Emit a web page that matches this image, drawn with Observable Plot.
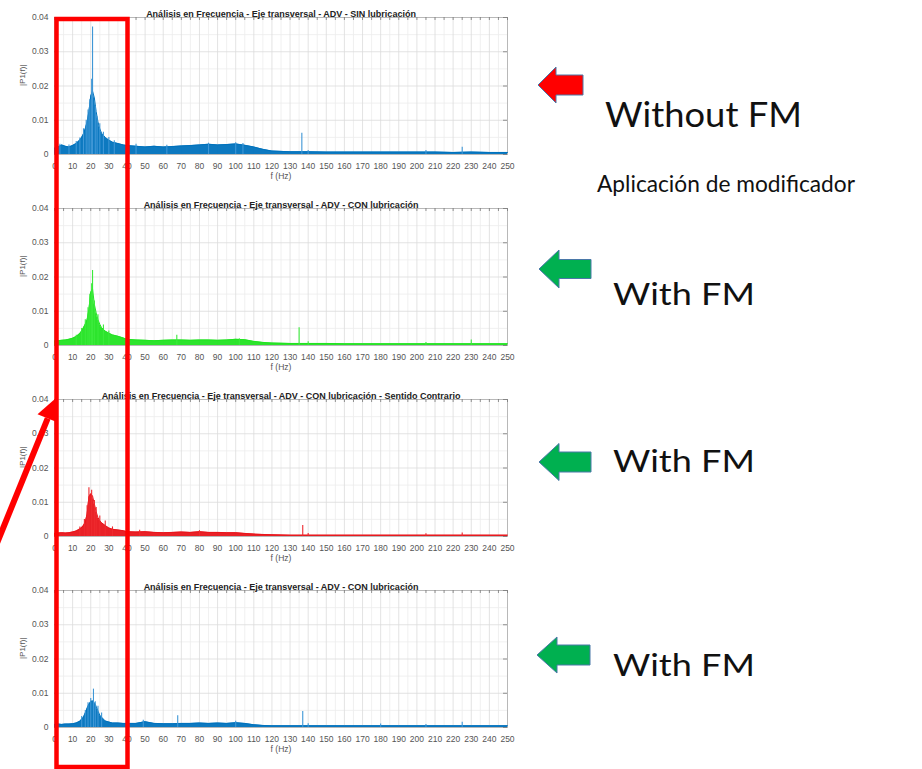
<!DOCTYPE html>
<html><head><meta charset="utf-8">
<script src="https://cdn.jsdelivr.net/npm/d3@7"></script>
<script src="https://cdn.jsdelivr.net/npm/@observablehq/plot@0.6"></script>
<style>
html,body{margin:0;padding:0;background:#fff;}
#wrap{position:relative;width:922px;height:769px;overflow:hidden;background:#fff;}
.panel{position:absolute;left:0;}
#overlay{position:absolute;left:0;top:0;}
</style></head><body>
<div id="wrap"></div>
<script>
// ---------- data ----------
const freq = [0,2,4,6,8,10,12,14,15,16,17,18,19,20,21,22,23,24,25,26,28,30,32,35,38,40,45,50,55,60,65,70,75,80,85,90,95,100,105,110,115,120,130,140,150,160,170,180,190,200,210,220,230,240,250];

const ampSin = [.0018,.0022,.0028,.0024,.0022,.0026,.0032,.0042,.005,.006,.0075,.0095,.0125,.017,.0185,.0165,.0125,.0095,.0075,.0062,.005,.0042,.0036,.0032,.0028,.0026,.0024,.0022,.0024,.0022,.0023,.0025,.0026,.0028,.003,.0028,.0029,.0031,.0027,.0022,.0015,.001,.0008,.0008,.0007,.0007,.0007,.0007,.0007,.0007,.0007,.0006,.0007,.0006,.0006];
const ampCon = [.0013,.0014,.0015,.0016,.0018,.0021,.0026,.0035,.0042,.0052,.0062,.0075,.0105,.0155,.0165,.012,.0095,.0075,.0062,.0052,.0042,.0036,.0031,.0027,.0022,.0018,.0016,.0015,.0014,.0015,.0016,.0016,.0015,.0016,.0016,.0015,.0016,.0018,.0017,.0012,.0009,.0007,.0006,.0006,.0006,.0005,.0005,.0005,.0005,.0005,.0005,.0005,.0005,.0005,.0005];
const ampContrario = [.0009,.001,.0011,.001,.0011,.0013,.0016,.0022,.0026,.0032,.0042,.0065,.0115,.0125,.0118,.0095,.0072,.0055,.0046,.004,.0032,.0025,.0021,.0019,.0017,.0014,.0013,.0014,.0012,.0011,.0012,.0013,.0012,.0014,.0012,.0012,.0011,.0011,.0009,.0007,.0006,.0005,.0004,.0004,.0004,.0004,.0004,.0004,.0004,.0004,.0004,.0004,.0004,.0004,.0004];
const ampCon2 = [.0009,.001,.0009,.001,.001,.0011,.0013,.0018,.0024,.003,.0042,.0056,.0068,.0075,.0078,.0072,.0062,.0048,.0036,.003,.0019,.0016,.0013,.0013,.0012,.0012,.0012,.0017,.0012,.0011,.0011,.0012,.0012,.0013,.0012,.0013,.0012,.0014,.0012,.0008,.0006,.0005,.0005,.0005,.0005,.0005,.0005,.0005,.0005,.0005,.0005,.0005,.0005,.0005,.0005];

// spikes (frequency, amplitude)
const spikeSinF = [3,8,12,14,16,17.5,18.5,19.5,20.5,21,22.5,23.5,25,27,30,33,45,62,85,100,104,136.5,140,205,225];
const spikeSinA = [.003,.0028,.0038,.0048,.0075,.01,.013,.016,.022,.0372,.014,.011,.009,.0065,.005,.004,.003,.0027,.0033,.0034,.0032,.0062,.0012,.0012,.0021];
const spikeConF = [12,15,17,18.5,19.5,20.5,21,22,24,27,30,67.5,102,135,140,205,230];
const spikeConA = [.003,.005,.0075,.011,.015,.018,.0219,.013,.009,.006,.0042,.003,.002,.0052,.0011,.0009,.0016];
const spikeContrarioF = [14,16.5,18,19,20.5,22,23,25,28,32,47,80,137,140,205,225];
const spikeContrarioA = [.0028,.005,.009,.0142,.0135,.0105,.0085,.006,.0045,.0028,.0018,.0017,.0032,.0009,.0008,.001];
const spikeCon2F = [15,17,18.5,20,21.5,22.5,24,26,49,68,100,137,140,180,205,225];
const spikeCon2A = [.0032,.005,.0072,.0085,.0112,.0075,.0062,.0042,.0021,.0034,.0018,.0047,.0011,.001,.0009,.0015];

const titles = [
  "Análisis en Frecuencia - Eje transversal - ADV - SIN lubricación",
  "Análisis en Frecuencia - Eje transversal - ADV - CON lubricación",
  "Análisis en Frecuencia - Eje transversal - ADV - CON lubricación - Sentido Contrario",
  "Análisis en Frecuencia - Eje transversal - ADV - CON lubricación"
];
const colors = ["#0072BD", "#22E322", "#E8151B", "#0072BD"];
const spikeColors = ["#3F97D6", "#3BEA3B", "#EE2A2F", "#3F97D6"];
const xTicks = d3.range(0, 251, 10);
const xMinor = d3.range(5, 250, 10);
const yTicks = [0, 0.01, 0.02, 0.03, 0.04];
const yMinor = [0.005, 0.015, 0.025, 0.035];
const yLabel = "|P1(f)|";
const xLabel = "f (Hz)";

const series = [
  {amp: ampSin, sf: spikeSinF, sa: spikeSinA},
  {amp: ampCon, sf: spikeConF, sa: spikeConA},
  {amp: ampContrario, sf: spikeContrarioF, sa: spikeContrarioA},
  {amp: ampCon2, sf: spikeCon2F, sa: spikeCon2A}
];
const panelTops = [0, 191, 382, 573];

const wrap = document.getElementById("wrap");
const tickLenX = 4 / 1.812;   // in Hz
const tickLenY = 3 / 3425;    // in |P1|

series.forEach((s, i) => {
  const rows = freq.map((f, j) => ({f, a: s.amp[j]}));
  const spikes = s.sf.map((f, j) => ({f, a: s.sa[j]}));
  const allX = d3.range(0, 251, 5);
  const chart = Plot.plot({
    width: 540, height: 185,
    marginLeft: 54, marginRight: 33, marginTop: 17, marginBottom: 31,
    style: {fontFamily: "'Liberation Sans', Arial, sans-serif", fontSize: "8px", background: "transparent", overflow: "visible"},
    x: {domain: [0, 250]},
    y: {domain: [0, 0.04]},
    marks: [
      Plot.ruleX(xMinor, {stroke: "#ececec", strokeWidth: 0.8}),
      Plot.ruleY(yMinor, {stroke: "#ececec", strokeWidth: 0.8}),
      Plot.ruleX(xTicks, {stroke: "#dcdcdc", strokeWidth: 0.8}),
      Plot.ruleY(yTicks, {stroke: "#dcdcdc", strokeWidth: 0.8}),
      Plot.frame({stroke: "#b8b8b8", strokeWidth: 1}),
      Plot.ruleX(allX, {y1: 0.04, y2: 0.04 - tickLenY, stroke: "#777", strokeWidth: 0.8}),
      Plot.ruleY(yTicks, {x1: 250, x2: 250 - tickLenX, stroke: "#777", strokeWidth: 0.8}),
      Plot.ruleY(yTicks, {x1: 0, x2: tickLenX, stroke: "#777", strokeWidth: 0.8}),
      Plot.areaY(rows, {x: "f", y: "a", fill: colors[i], fillOpacity: 0.95}),
      Plot.lineY(rows, {x: "f", y: "a", stroke: colors[i], strokeWidth: 1}),
      Plot.ruleX(spikes, {x: "f", y1: 0, y2: "a", stroke: spikeColors[i], strokeWidth: 1.1}),
      Plot.axisX({ticks: xTicks, tickSize: 0, tickPadding: 8, tickFormat: d => String(d), label: null, fill: "#555", fontSize: 8.5}),
      Plot.axisY({ticks: yTicks, tickSize: 0, tickPadding: 6, tickFormat: d => d === 0 ? "0" : d3.format(".2f")(d), label: null, fill: "#555", fontSize: 8.5}),
      Plot.text([xLabel], {frameAnchor: "bottom", dy: 24, fill: "#555", fontSize: 8.5}),
      Plot.text([yLabel], {frameAnchor: "left", dx: -32, rotate: -90, fill: "#555", fontSize: 8}),
      Plot.text([titles[i]], {frameAnchor: "top", dy: -7, fontWeight: "bold", fill: "#222", fontSize: 9})
    ]
  });
  const div = document.createElement("div");
  div.className = "panel";
  div.style.top = panelTops[i] + "px";
  div.appendChild(chart);
  wrap.appendChild(div);
});

// ---------- annotations ----------
const NS = "http://www.w3.org/2000/svg";
const ov = document.createElementNS(NS, "svg");
ov.setAttribute("id", "overlay");
ov.setAttribute("width", 922);
ov.setAttribute("height", 769);
function el(name, attrs, text) {
  const e = document.createElementNS(NS, name);
  for (const k in attrs) e.setAttribute(k, attrs[k]);
  if (text) e.textContent = text;
  ov.appendChild(e);
  return e;
}
el("rect", {x: 56.5, y: 19, width: 71, height: 748, fill: "none", stroke: "#ff0000", "stroke-width": 4.5});
el("line", {x1: -4.2, y1: 546, x2: 47.7, y2: 418.4, stroke: "#ff0000", "stroke-width": 6});
el("polygon", {points: "56,398 37.5,414.3 57.9,422.5", fill: "#ff0000"});

function blockArrow(tx, ty, hx, hh, sh, ex, fill) {
  const pts = [[tx,ty],[hx,ty-hh],[hx,ty-sh],[ex,ty-sh],[ex,ty+sh],[hx,ty+sh],[hx,ty+hh]];
  el("polygon", {points: pts.map(p => p.join(",")).join(" "), fill, stroke: "#4A78A8", "stroke-width": 1});
}
blockArrow(538, 85, 556, 18, 10, 583, "#FF0000");
blockArrow(539, 269, 559, 19, 9.5, 591, "#00B050");
blockArrow(539, 462, 559, 18.5, 10, 591, "#00B050");
blockArrow(537, 655, 557, 18, 10, 590, "#00B050");

const labels = [
  {t: "Without FM", x: 605, y: 127, fs: 34, w: 197},
  {t: "Aplicación de modificador", x: 597, y: 192, fs: 22.5, w: 258},
  {t: "With FM", x: 613, y: 305, fs: 31, w: 142},
  {t: "With FM", x: 613, y: 472, fs: 31, w: 142},
  {t: "With FM", x: 613, y: 676, fs: 31, w: 142}
];
labels.forEach(l => el("text", {x: l.x, y: l.y, "font-family": "Lato, 'Open Sans', sans-serif", "font-size": l.fs, fill: "#111", textLength: l.w, lengthAdjust: "spacingAndGlyphs"}, l.t));
wrap.appendChild(ov);
</script>
</body></html>
